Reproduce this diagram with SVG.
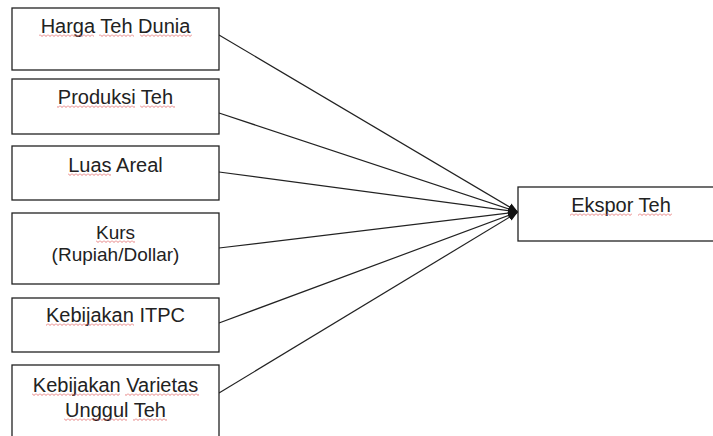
<svg xmlns="http://www.w3.org/2000/svg" width="713" height="436" viewBox="0 0 713 436">
<style>
.box{fill:#fff;stroke:#222;stroke-width:1.3}
.lbl{font-family:"Liberation Sans",Arial,sans-serif;font-size:20px;fill:#222;text-anchor:middle}
.sm{font-size:19px}
.con{stroke:#222;stroke-width:1.2;fill:none}
.sq{fill:url(#sq)}
</style>
<defs>
<pattern id="sq" patternUnits="userSpaceOnUse" width="4" height="3">
<path d="M0,0.5 L2,2.5 L4,0.5" fill="none" stroke="#e06060" stroke-width="0.8"/>
</pattern>
<marker id="arr" viewBox="0 0 10 8" refX="10" refY="4" markerWidth="10" markerHeight="8" markerUnits="userSpaceOnUse" orient="auto">
<path d="M0,0 L10,4 L0,8 z" fill="#111"/>
</marker>
</defs>
<rect width="713" height="436" fill="#fff"/>
<g id="connectors">
<line class="con" x1="219" y1="35" x2="518" y2="212" marker-end="url(#arr)"/>
<line class="con" x1="219" y1="113" x2="518" y2="212" marker-end="url(#arr)"/>
<line class="con" x1="219" y1="172" x2="518" y2="212" marker-end="url(#arr)"/>
<line class="con" x1="219" y1="248" x2="518" y2="212" marker-end="url(#arr)"/>
<line class="con" x1="219" y1="323" x2="518" y2="212" marker-end="url(#arr)"/>
<line class="con" x1="219" y1="393" x2="518" y2="212" marker-end="url(#arr)"/>
</g>
<g id="harga">
<rect class="box" x="12" y="8" width="207" height="62"/>
<text class="lbl" x="115.5" y="33">Harga Teh Dunia</text>
<rect class="sq" transform="translate(0,34)" x="39" width="55" height="3"/>
<rect class="sq" transform="translate(0,34)" x="99" width="35" height="3"/>
<rect class="sq" transform="translate(0,34)" x="140" width="52" height="3"/>
</g>
<g id="produksi">
<rect class="box" x="12" y="79" width="207" height="55"/>
<text class="lbl" x="115.5" y="104">Produksi Teh</text>
<rect class="sq" transform="translate(0,105)" x="57" width="78" height="3"/>
<rect class="sq" transform="translate(0,105)" x="140" width="35" height="3"/>
</g>
<g id="luas">
<rect class="box" x="12" y="146" width="207" height="54"/>
<text class="lbl" x="115.5" y="172">Luas Areal</text>
<rect class="sq" transform="translate(0,173)" x="68" width="43" height="3"/>
</g>
<g id="kurs">
<rect class="box" x="12" y="213" width="207" height="71"/>
<text class="lbl sm" x="115.5" y="239">Kurs</text>
<rect class="sq" transform="translate(0,240)" x="96" width="39" height="3"/>
<text class="lbl sm" x="115.5" y="261">(Rupiah/Dollar)</text>
</g>
<g id="itpc">
<rect class="box" x="12" y="298" width="207" height="54"/>
<text class="lbl" x="115.5" y="322">Kebijakan ITPC</text>
<rect class="sq" transform="translate(0,323)" x="46" width="88" height="3"/>
</g>
<g id="varietas">
<rect class="box" x="12" y="365" width="207" height="80"/>
<text class="lbl" x="115.5" y="392">Kebijakan Varietas</text>
<rect class="sq" transform="translate(0,393)" x="32" width="88" height="3"/>
<rect class="sq" transform="translate(0,393)" x="125" width="74" height="3"/>
<text class="lbl" x="115.5" y="417">Unggul Teh</text>
<rect class="sq" transform="translate(0,418)" x="64" width="63" height="3"/>
<rect class="sq" transform="translate(0,418)" x="133" width="34" height="3"/>
</g>
<g id="ekspor">
<rect class="box" x="518" y="187" width="207" height="54"/>
<text class="lbl" x="621" y="212">Ekspor Teh</text>
<rect class="sq" transform="translate(0,213)" x="570" width="62" height="3"/>
<rect class="sq" transform="translate(0,213)" x="638" width="34" height="3"/>
</g>
</svg>
